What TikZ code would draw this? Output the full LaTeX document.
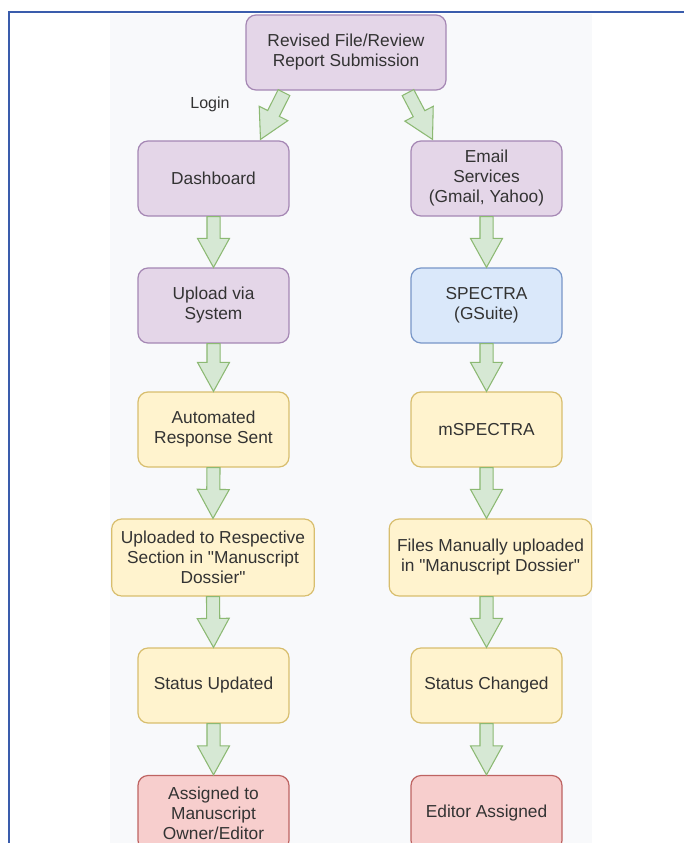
\documentclass[tikz,border=0pt]{standalone}
\usepackage{fontspec}
\setmainfont{Liberation Sans}
\usetikzlibrary{calc}

\definecolor{framblue}{RGB}{58,92,172}
\definecolor{panelgray}{RGB}{248,249,251}
\definecolor{txtgray}{RGB}{51,51,51}
\definecolor{purplefill}{RGB}{228,214,232}
\definecolor{purpleline}{RGB}{165,135,180}
\definecolor{bluefill}{RGB}{218,232,250}
\definecolor{blueline}{RGB}{120,150,200}
\definecolor{yellowfill}{RGB}{255,243,206}
\definecolor{yellowline}{RGB}{216,190,110}
\definecolor{redfill}{RGB}{247,206,205}
\definecolor{redline}{RGB}{190,100,98}
\definecolor{arrfill}{RGB}{214,232,212}
\definecolor{arrline}{RGB}{140,185,115}

% block arrow between two anchors
\newcommand{\fatarrow}[2]{%
  \coordinate (fa-h) at ($(#2)!21.75pt!(#1)$);
  \draw[fatarr] ($(#1)!4.9pt!90:(#2)$) -- ($(fa-h)!4.9pt!90:(#2)$) -- ($(fa-h)!12pt!90:(#2)$) -- (#2) -- ($(fa-h)!12pt!-90:(#2)$) -- ($(fa-h)!4.9pt!-90:(#2)$) -- ($(#1)!4.9pt!-90:(#2)$) -- cycle;}

\begin{document}
\begin{tikzpicture}[x=0.75pt,y=0.75pt,yscale=-1,xscale=1,
  box/.style={rectangle, rounded corners=7.5pt, line width=0.9pt, minimum width=113.25pt, minimum height=56.25pt, align=center, inner sep=2pt, font=\fontsize{13}{15}\selectfont, text=txtgray},
  widebox/.style={box, minimum width=152pt, minimum height=57.75pt},
  purplebox/.style={box, draw=purpleline, fill=purplefill},
  bluebox/.style={box, draw=blueline, fill=bluefill},
  yellowbox/.style={box, draw=yellowline, fill=yellowfill},
  redbox/.style={box, draw=redline, fill=redfill},
  fatarr/.style={draw=arrline, fill=arrfill, line width=0.8pt, line join=miter}]
	\useasboundingbox (0,0) rectangle (684,843);

	%Shape: Panel
	\fill [panelgray] (110,14) rectangle (592,843);
	%Straight Lines: frame
	\draw [framblue, line width=1.2pt] (9,843) -- (9,12) -- (684,12);

	% Top node
	\node [purplebox, minimum width=150pt] (sub) at (346,52.5) {Revised File/Review\\Report Submission};

	% Left column
	\node [purplebox] (dash) at (213.5,178.5) {Dashboard};
	\node [purplebox] (upload) at (213.5,305.5) {Upload via\\System};
	\node [yellowbox] (auto) at (213.5,429.5) {Automated\\Response Sent};
	\node [yellowbox, widebox] (section) at (213,557.5) {Uploaded to Respective\\Section in \textquotedbl Manuscript\\Dossier\textquotedbl};
	\node [yellowbox] (updated) at (213.5,685.5) {Status Updated};
	\node [redbox] (owner) at (213.5,813) {Assigned to\\Manuscript\\Owner/Editor};

	% Right column
	\node [purplebox] (mail) at (486.5,178.5) {Email\\Services\\(Gmail, Yahoo)};
	\node [bluebox] (spectra) at (486.5,305.5) {SPECTRA\\(GSuite)};
	\node [yellowbox] (mspectra) at (486.5,429.5) {mSPECTRA};
	\node [yellowbox, widebox] (manual) at (490.5,557.5) {Files Manually uploaded\\in \textquotedbl Manuscript Dossier\textquotedbl};
	\node [yellowbox] (changed) at (486.5,685.5) {Status Changed};
	\node [redbox] (editor) at (486.5,813) {Editor Assigned};

	% Text Node
	\node [font=\fontsize{12}{14}\selectfont, text=txtgray] (login) at (210,104) {Login};

	% Block arrows
	\coordinate (lt) at ($(sub.south)+(-62,2)$);
	\coordinate (lh) at ($(dash.north)+(47,-1)$);
	\coordinate (rt) at ($(sub.south)+(62,2)$);
	\coordinate (rh) at ($(mail.north)+(-54,-1)$);
	\coordinate (mtop) at (mspectra.south |- manual.north);
	\coordinate (mbot) at (changed.north |- manual.south);
	\fatarrow{lt}{lh}
	\fatarrow{rt}{rh}
	\fatarrow{dash.south}{upload.north}
	\fatarrow{upload.south}{auto.north}
	\fatarrow{auto.south}{section.north}
	\fatarrow{section.south}{updated.north}
	\fatarrow{updated.south}{owner.north}
	\fatarrow{mail.south}{spectra.north}
	\fatarrow{spectra.south}{mspectra.north}
	\fatarrow{mspectra.south}{mtop}
	\fatarrow{mbot}{changed.north}
	\fatarrow{changed.south}{editor.north}

\end{tikzpicture}
\end{document}
